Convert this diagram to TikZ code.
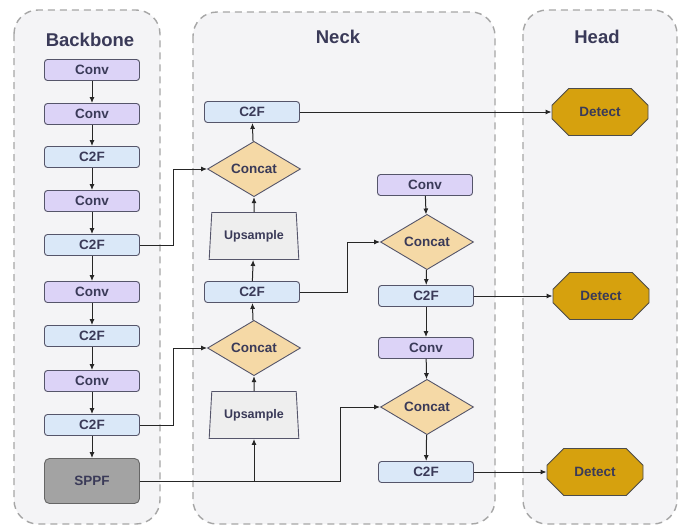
\documentclass[tikz,border=0pt]{standalone}
\usepackage{fontspec}
\setmainfont{Liberation Sans}
\usetikzlibrary{shapes.geometric,shapes.misc,arrows.meta}

\definecolor{panelfill}{HTML}{F4F4F6}
\definecolor{panelline}{HTML}{A6A6A6}
\definecolor{convfill}{HTML}{DCD3F7}
\definecolor{c2ffill}{HTML}{DAE8F8}
\definecolor{catfill}{HTML}{F5D9A6}
\definecolor{upfill}{HTML}{EEEEEE}
\definecolor{detfill}{HTML}{D6A10E}
\definecolor{sppffill}{HTML}{A3A3A3}
\definecolor{edge}{HTML}{55556A}
\definecolor{txt}{HTML}{3A3A58}

\begin{document}
\begin{tikzpicture}[x=1pt,y=-1pt,
    panel/.style={draw=panelline, fill=panelfill, dash pattern=on 7pt off 5pt, line width=1.4pt, rounded corners=24pt},
    title/.style={font=\fontsize{18.5}{20}\selectfont\bfseries, text=txt},
    blk/.style={draw=edge, line width=0.9pt, rounded corners=3pt, minimum width=95pt, minimum height=21pt, inner sep=0pt, font=\fontsize{13.5}{15}\selectfont\bfseries, text=txt},
    conv/.style={blk, fill=convfill},
    c2f/.style={blk, fill=c2ffill},
    sppf/.style={blk, fill=sppffill, draw=black!60, minimum height=45pt, rounded corners=5pt},
    cat/.style={blk, shape=diamond, rounded corners=0pt, fill=catfill, minimum width=93pt, minimum height=46pt},
    ups/.style={blk, shape=trapezium, rounded corners=0pt, fill=upfill, trapezium left angle=81, trapezium right angle=81, trapezium stretches=true, minimum width=90pt, minimum height=47pt, font=\fontsize{12.5}{14}\selectfont\bfseries},
    det/.style={blk, shape=chamfered rectangle, rounded corners=0pt, fill=detfill, draw=black!70, chamfered rectangle xsep=15pt, chamfered rectangle ysep=12pt, minimum width=96pt, minimum height=47pt},
    arr/.style={draw=black!85, line width=1pt, -{Latex[length=6pt,width=5pt]}}
  ]
  \useasboundingbox (0,0) rectangle (683,528);

  % panels
  \draw[panel] (14,10) rectangle (160,524);
  \draw[panel] (193,12) rectangle (495,524);
  \draw[panel] (523,10) rectangle (677,524);
  \node[title] (tbb) at (90,40) {Backbone};
  \node[title] (tneck) at (338,37) {Neck};
  \node[title] (thead) at (597,37) {Head};

  % backbone
  \node[conv] (b1) at (92,70) {Conv};
  \node[conv] (b2) at (92,114) {Conv};
  \node[c2f] (b3) at (92,157) {C2F};
  \node[conv] (b4) at (92,201) {Conv};
  \node[c2f] (b5) at (92,245) {C2F};
  \node[conv] (b6) at (92,292) {Conv};
  \node[c2f] (b7) at (92,336) {C2F};
  \node[conv] (b8) at (92,381) {Conv};
  \node[c2f] (b9) at (92,425) {C2F};
  \node[sppf] (sppf) at (92,481) {SPPF};
  \foreach \a/\b in {b1/b2,b2/b3,b3/b4,b4/b5,b5/b6,b6/b7,b7/b8,b8/b9,b9/sppf}
    \draw[arr] (\a) -- (\b);

  % neck, left column
  \node[c2f] (c2fA) at (252,112) {C2F};
  \node[cat] (catA) at (254,169) {Concat};
  \node[ups] (upA) at (254,236) {Upsample};
  \node[c2f] (c2fB) at (252,292) {C2F};
  \node[cat] (catB) at (254,348) {Concat};
  \node[ups] (upB) at (254,415) {Upsample};

  % neck, right column
  \node[conv] (convR) at (425,185) {Conv};
  \node[cat] (catC) at (427,242) {Concat};
  \node[c2f] (c2fC) at (426,296) {C2F};
  \node[conv] (convS) at (426,348) {Conv};
  \node[cat] (catD) at (427,407) {Concat};
  \node[c2f] (c2fD) at (426,472) {C2F};

  % head
  \node[det] (detA) at (600,112) {Detect};
  \node[det] (detB) at (601,296) {Detect};
  \node[det] (detC) at (595,472) {Detect};

  \draw[arr] (b5.east) -- ++(34,0) |- (catA.west);
  \draw[arr] (b9.east) -- ++(34,0) |- (catB.west);
  \draw[arr] (sppf.east) -| (upB.south);
  \draw[arr] (sppf.east) -- ++(201,0) |- (catD.west);
  \draw[arr] (c2fB.east) -- ++(48,0) |- (catC.west);

  \foreach \a/\b in {upB/catB,catB/c2fB,c2fB/upA,upA/catA,catA/c2fA,convR/catC,catC/c2fC,c2fC/convS,convS/catD,catD/c2fD}
    \draw[arr] (\a) -- (\b);

  \draw[arr] (c2fA.east) -- (detA.west);
  \draw[arr] (c2fC.east) -- (detB.west);
  \draw[arr] (c2fD.east) -- (detC.west);
\end{tikzpicture}
\end{document}
